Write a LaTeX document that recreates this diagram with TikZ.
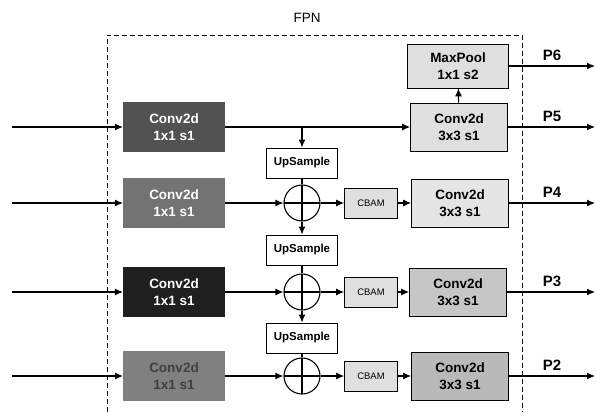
\documentclass[tikz,border=0pt]{standalone}
\usepackage{fontspec}
\setmainfont{Liberation Sans}
\usetikzlibrary{
    arrows.meta,
    positioning
}

\begin{document}
\begin{tikzpicture}[x=1pt, y=-1pt, line width=1.1pt,
    >={Latex[length=8pt,width=7pt]},
    blk/.style={minimum width=101pt, minimum height=48pt, inner sep=0pt, align=center,
                font=\fontsize{13.5}{17}\selectfont\bfseries},
    lconv/.style={blk, fill=#1, draw=#1, text=white},
    rconv/.style={blk, draw, line width=0.8pt, minimum width=97pt, fill=#1},
    upbox/.style={draw, line width=1pt, minimum width=71pt, minimum height=30pt, inner sep=0pt,
                  font=\fontsize{11.5}{13}\selectfont\bfseries},
    cbam/.style={draw, line width=0.7pt, fill=gray!25, minimum width=53pt, minimum height=30pt, inner sep=0pt,
                 font=\fontsize{9.5}{11}\selectfont},
    plus/.style={circle, draw, minimum size=36pt, inner sep=0pt,
                 path picture={\draw (path picture bounding box.north) -- (path picture bounding box.south)
                                     (path picture bounding box.west) -- (path picture bounding box.east);}},
    plab/.style={font=\fontsize{15}{17}\selectfont\bfseries}
]
    \useasboundingbox (0,0) rectangle (596,412);

    % FPN frame
    \node[font=\fontsize{13.5}{15}\selectfont] (fpn) at (307,18) {FPN};
    \draw[dashed, line width=0.9pt, dash pattern=on 5pt off 3pt] (107,412) -- (107,35) -- (522,35) -- (522,412);

    % lateral 1x1 convs
    \node[lconv=black!68] (c1) at (174,127) {Conv2d\\1x1 s1};
    \node[lconv=black!55] (c2) at (174,203) {Conv2d\\1x1 s1};
    \node[lconv=black!88] (c3) at (174,292) {Conv2d\\1x1 s1};
    \node[lconv=black!50, text=black!75] (c4) at (174,376) {Conv2d\\1x1 s1};

    % inputs
    \coordinate (i1) at (12,127);
    \coordinate (i2) at (12,203);
    \coordinate (i3) at (12,292);
    \coordinate (i4) at (12,376);

    % top-down path
    \coordinate (br) at (302,127);
    \node[upbox] (up1) at (302,163) {UpSample};
    \node[plus] (s2) at (302,203) {};
    \node[upbox] (up2) at (302,250) {UpSample};
    \node[plus] (s3) at (302,292) {};
    \node[upbox] (up3) at (302,338) {UpSample};
    \node[plus] (s4) at (302,376) {};

    \node[cbam] (cb2) at (371,203) {CBAM};
    \node[cbam] (cb3) at (371,292) {CBAM};
    \node[cbam] (cb4) at (371,376) {CBAM};

    % output convs
    \node[rconv=gray!25, minimum width=101pt, minimum height=44pt] (mp) at (458,66) {MaxPool\\1x1 s2};
    \node[rconv=gray!25] (r5) at (459,127) {Conv2d\\3x3 s1};
    \node[rconv=gray!20] (r4) at (460,203) {Conv2d\\3x3 s1};
    \node[rconv=gray!45] (r3) at (458,292) {Conv2d\\3x3 s1};
    \node[rconv=gray!55] (r2) at (460,376) {Conv2d\\3x3 s1};

    % outputs
    \coordinate (o6) at (595,66);
    \coordinate (o5) at (595,127);
    \coordinate (o4) at (595,203);
    \coordinate (o3) at (595,292);
    \coordinate (o2) at (595,376);
    \node[plab] (p6) at (552,55) {P6};
    \node[plab] (p5) at (552,116) {P5};
    \node[plab] (p4) at (552,192) {P4};
    \node[plab] (p3) at (552,281) {P3};
    \node[plab] (p2) at (552,365) {P2};

    \draw
    (i1) edge[->] (c1)
    (i2) edge[->] (c2)
    (i3) edge[->] (c3)
    (i4) edge[->] (c4)
    (c1) edge[->] (r5)
    (br) edge[->] (up1)
    (up1) edge (s2)
    (s2) edge[->] (up2)
    (up2) edge (s3)
    (s3) edge[->] (up3)
    (up3) edge (s4)
    (c2) edge[->] (s2)
    (c3) edge[->] (s3)
    (c4) edge[->] (s4)
    (s2) edge[->] (cb2)
    (s3) edge[->] (cb3)
    (s4) edge[->] (cb4)
    (cb2) edge[->] (r4)
    (cb3) edge[->] (r3)
    (cb4) edge[->] (r2)
    (r5) edge[->] (mp)
    (mp) edge[->] (o6)
    (r5) edge[->] (o5)
    (r4) edge[->] (o4)
    (r3) edge[->] (o3)
    (r2) edge[->] (o2);
\end{tikzpicture}
\end{document}
